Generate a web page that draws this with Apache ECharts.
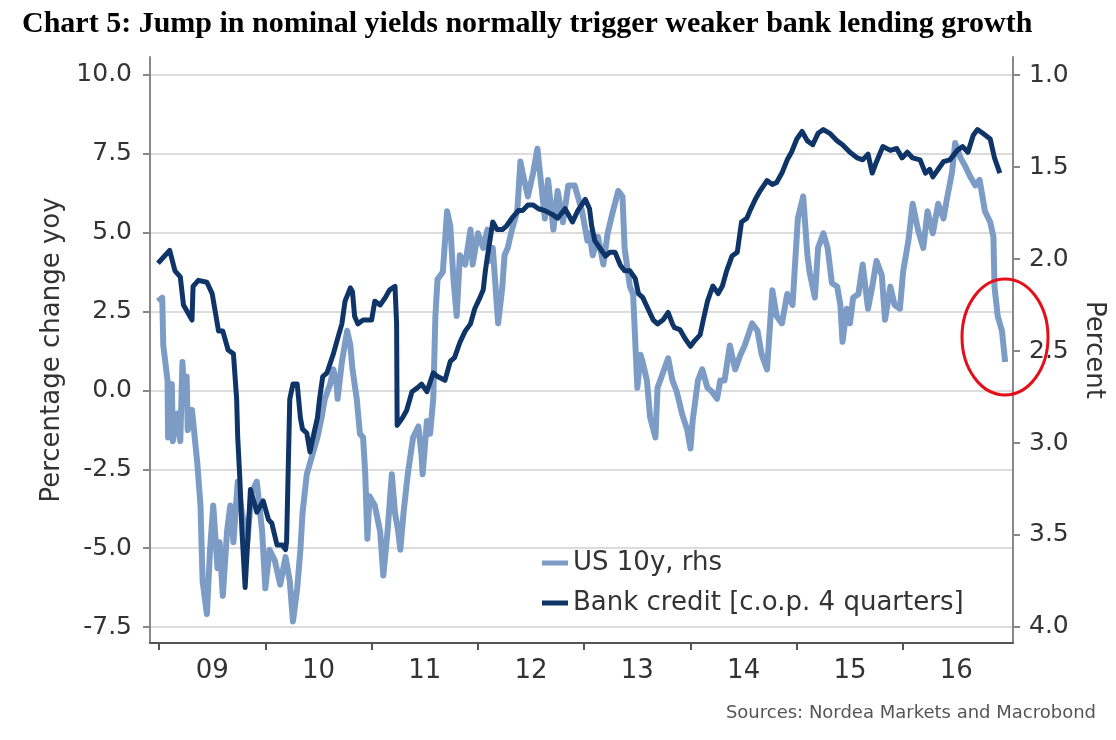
<!DOCTYPE html>
<html><head><meta charset="utf-8">
<script src="https://cdn.jsdelivr.net/npm/echarts@6/dist/echarts.min.js"></script>
<style>html,body{margin:0;padding:0;background:#fff}#c{width:1116px;height:740px}</style>
</head><body><div id="c"></div>
<script>
// Bank credit, % change yoy (c.o.p. 4 quarters), left axis
const bankTime = [2008.99,2009.10,2009.15,2009.20,2009.23,2009.31,2009.32,2009.37,2009.45,2009.50,2009.56,2009.60,2009.65,2009.70,2009.73,2009.74,2009.76,2009.78,2009.79,2009.81,2009.83,2009.86,2009.92,2009.98,2010.03,2010.06,2010.11,2010.16,2010.19,2010.20,2010.23,2010.26,2010.30,2010.33,2010.35,2010.39,2010.42,2010.45,2010.49,2010.51,2010.54,2010.58,2010.64,2010.68,2010.72,2010.75,2010.80,2010.82,2010.84,2010.87,2010.92,2010.98,2011.00,2011.03,2011.08,2011.13,2011.17,2011.22,2011.235,2011.24,2011.29,2011.33,2011.38,2011.43,2011.47,2011.52,2011.55,2011.58,2011.62,2011.69,2011.74,2011.78,2011.83,2011.88,2011.93,2011.97,2012.02,2012.05,2012.07,2012.09,2012.14,2012.18,2012.23,2012.27,2012.32,2012.38,2012.42,2012.47,2012.52,2012.57,2012.63,2012.70,2012.75,2012.82,2012.89,2012.94,2013.01,2013.05,2013.07,2013.10,2013.15,2013.20,2013.24,2013.29,2013.34,2013.38,2013.43,2013.48,2013.51,2013.55,2013.60,2013.65,2013.69,2013.74,2013.79,2013.83,2013.85,2013.90,2013.95,2014.00,2014.04,2014.09,2014.12,2014.16,2014.21,2014.26,2014.30,2014.34,2014.39,2014.44,2014.48,2014.53,2014.56,2014.61,2014.65,2014.72,2014.77,2014.81,2014.86,2014.91,2014.95,2015.00,2015.05,2015.10,2015.15,2015.20,2015.25,2015.31,2015.38,2015.43,2015.50,2015.57,2015.62,2015.67,2015.71,2015.75,2015.81,2015.88,2015.94,2015.99,2016.04,2016.09,2016.16,2016.21,2016.25,2016.28,2016.33,2016.38,2016.44,2016.51,2016.56,2016.61,2016.66,2016.70,2016.75,2016.82,2016.86,2016.91];
const bankCredit = [4.03,4.44,3.79,3.6,2.71,2.23,3.3,3.49,3.43,3.07,1.88,1.88,1.28,1.16,-0.27,-1.47,-2.78,-4.46,-5.05,-6.25,-5.05,-3.14,-3.86,-3.5,-4.1,-4.2,-4.9,-4.9,-5.05,-4.8,-0.27,0.2,0.2,-0.87,-1.23,-1.35,-1.95,-1.47,-0.87,-0.27,0.44,0.56,1.16,1.64,2.11,2.83,3.25,3.13,2.35,2.11,2.23,2.23,2.23,2.83,2.71,2.95,3.19,3.3,2.11,-1.11,-0.87,-0.63,-0.04,0.08,0.2,-0.04,0.26,0.56,0.44,0.32,0.92,1.04,1.52,1.88,2.11,2.59,2.95,3.19,3.79,4.26,5.34,5.1,5.1,5.22,5.46,5.7,5.7,5.88,5.88,5.76,5.7,5.58,5.46,5.76,5.34,5.7,6.06,5.76,5.22,4.74,4.5,4.26,4.38,4.38,3.97,3.79,3.79,3.55,3.07,2.95,2.59,2.23,2.11,2.23,2.47,2.11,1.99,1.93,1.64,1.4,1.58,1.76,2.23,2.83,3.31,3.07,3.31,3.79,4.26,4.38,5.34,5.46,5.7,6.06,6.3,6.65,6.53,6.59,6.89,7.31,7.55,7.97,8.21,7.91,7.79,8.15,8.27,8.15,7.91,7.79,7.55,7.37,7.31,7.49,6.89,7.25,7.73,7.61,7.67,7.37,7.55,7.37,7.31,6.89,7.01,6.77,7.01,7.25,7.31,7.61,7.73,7.55,8.09,8.27,8.15,7.97,7.37,6.89];

// US 10y yield, percent, right axis (inverted)
const yieldTime = [2008.99,2009.03,2009.04,2009.08,2009.085,2009.12,2009.13,2009.17,2009.20,2009.22,2009.24,2009.26,2009.27,2009.31,2009.36,2009.39,2009.41,2009.45,2009.48,2009.51,2009.55,2009.57,2009.60,2009.64,2009.67,2009.70,2009.74,2009.78,2009.83,2009.87,2009.92,2009.97,2010.00,2010.04,2010.09,2010.14,2010.19,2010.23,2010.26,2010.30,2010.33,2010.35,2010.39,2010.44,2010.49,2010.53,2010.56,2010.61,2010.64,2010.67,2010.68,2010.72,2010.77,2010.80,2010.82,2010.86,2010.89,2010.92,2010.94,2010.96,2010.98,2011.03,2011.08,2011.11,2011.15,2011.19,2011.22,2011.25,2011.27,2011.30,2011.34,2011.39,2011.44,2011.47,2011.48,2011.52,2011.55,2011.58,2011.60,2011.62,2011.67,2011.71,2011.74,2011.77,2011.80,2011.83,2011.88,2011.93,2011.95,2012.00,2012.05,2012.09,2012.11,2012.14,2012.19,2012.23,2012.25,2012.28,2012.32,2012.37,2012.40,2012.42,2012.47,2012.52,2012.56,2012.58,2012.63,2012.66,2012.71,2012.75,2012.80,2012.85,2012.91,2012.98,2013.03,2013.05,2013.08,2013.13,2013.18,2013.22,2013.27,2013.32,2013.36,2013.38,2013.43,2013.46,2013.50,2013.53,2013.55,2013.59,2013.62,2013.67,2013.69,2013.74,2013.79,2013.83,2013.87,2013.92,2013.97,2014.00,2014.02,2014.07,2014.11,2014.16,2014.20,2014.25,2014.28,2014.32,2014.37,2014.42,2014.47,2014.51,2014.58,2014.63,2014.67,2014.72,2014.77,2014.81,2014.86,2014.91,2014.96,2015.01,2015.06,2015.10,2015.12,2015.17,2015.20,2015.25,2015.29,2015.33,2015.38,2015.41,2015.43,2015.47,2015.50,2015.53,2015.58,2015.62,2015.67,2015.71,2015.75,2015.80,2015.83,2015.88,2015.92,2015.97,2016.00,2016.05,2016.09,2016.14,2016.19,2016.23,2016.28,2016.33,2016.38,2016.41,2016.46,2016.49,2016.54,2016.58,2016.63,2016.68,2016.72,2016.77,2016.82,2016.85,2016.86,2016.89,2016.93,2016.96];
const us10y = [2.23,2.21,2.47,2.66,2.97,2.68,2.99,2.84,2.99,2.56,2.76,2.64,2.93,2.82,3.11,3.34,3.75,3.93,3.58,3.34,3.68,3.54,3.83,3.48,3.34,3.54,3.21,3.38,3.54,3.27,3.21,3.48,3.79,3.58,3.64,3.77,3.62,3.75,3.97,3.79,3.58,3.38,3.17,3.07,2.97,2.86,2.76,2.68,2.60,2.68,2.76,2.56,2.39,2.47,2.60,2.76,2.95,2.97,3.17,3.52,3.29,3.34,3.48,3.72,3.48,3.17,3.38,3.48,3.58,3.38,3.17,2.97,2.91,3.07,3.17,2.88,2.95,2.76,2.31,2.11,2.07,1.74,1.82,2.11,2.31,1.98,2.03,1.84,2.03,1.86,1.94,1.84,2.01,1.94,2.35,2.15,1.98,1.94,1.84,1.74,1.47,1.53,1.66,1.53,1.40,1.51,1.78,1.57,1.84,1.63,1.80,1.60,1.60,1.74,1.90,1.86,1.98,1.88,2.03,1.86,1.74,1.63,1.66,1.94,2.15,2.19,2.70,2.52,2.56,2.66,2.86,2.97,2.70,2.62,2.54,2.66,2.72,2.84,2.93,3.03,2.88,2.66,2.60,2.70,2.72,2.76,2.66,2.66,2.47,2.60,2.52,2.47,2.35,2.39,2.52,2.60,2.17,2.31,2.35,2.19,2.25,1.78,1.66,1.98,2.07,2.21,1.94,1.86,1.94,2.13,2.15,2.25,2.45,2.27,2.35,2.21,2.19,2.03,2.27,2.15,2.01,2.09,2.33,2.15,2.25,2.27,2.07,1.90,1.70,1.84,1.94,1.74,1.86,1.70,1.78,1.68,1.53,1.37,1.45,1.49,1.55,1.60,1.57,1.74,1.80,1.88,2.15,2.31,2.39,2.56];

const yearTicks = [2009,2010,2011,2012,2013,2014,2015,2016];
const yearLabels = ['09','10','11','12','13','14','15','16'];
const leftTicks = [-7.5,-5,-2.5,0,2.5,5,7.5,10];
const rightTicks = [1,1.5,2,2.5,3,3.5,4];

const labelMid = yearTicks.map(y => y + 0.5);
const pair = (t, v) => t.map((x, i) => [x, v[i]]);
const FONT = 'DejaVu Sans';

const chart = echarts.init(document.getElementById('c'), null, {renderer: 'canvas'});
chart.setOption({
  animation: false,
  backgroundColor: '#ffffff',
  title: {
    text: 'Chart 5: Jump in nominal yields normally trigger weaker bank lending growth',
    left: 17, top: 4,
    textStyle: {fontFamily: 'Liberation Serif', fontWeight: 'bold', fontSize: 30, color: '#000'}
  },
  grid: {left: 150, right: 103, top: 57, bottom: 97, containLabel: false},
  legend: {
    left: 537, top: 545, orient: 'vertical', itemGap: 14,
    icon: 'rect', itemWidth: 26, itemHeight: 5,
    textStyle: {fontFamily: FONT, fontSize: 26, color: '#333'},
    data: ['US 10y, rhs', 'Bank credit [c.o.p. 4 quarters]']
  },
  xAxis: {
    type: 'value', min: 2008.915, max: 2017.034,
    axisLine: {show: true, onZero: false, lineStyle: {color: '#555', width: 2}},
    axisTick: {show: true, customValues: yearTicks, length: 7, lineStyle: {color: '#555', width: 2}},
    axisLabel: {
      customValues: labelMid, margin: 15,
      fontFamily: FONT, fontSize: 26, color: '#333',
      formatter: v => yearLabels[yearTicks.indexOf(Math.round(v - 0.5))]
    },
    splitLine: {show: false}
  },
  yAxis: [{
    type: 'value', min: -8.007, max: 10.57, position: 'left',
    name: 'Percentage change yoy', nameLocation: 'middle', nameGap: 78, nameRotate: 90,
    nameTextStyle: {fontFamily: FONT, fontSize: 26, color: '#333'},
    axisLine: {show: true, lineStyle: {color: '#888', width: 2}},
    axisTick: {show: true, customValues: leftTicks, length: 7, lineStyle: {color: '#888', width: 2}},
    axisLabel: {customValues: leftTicks, margin: 18, fontFamily: FONT, fontSize: 25, color: '#333',
      formatter: v => v.toFixed(1)},
    splitLine: {show: true, lineStyle: {color: '#dcdcdc', width: 2}}
  }, {
    type: 'value', min: 0.902, max: 4.087, inverse: true, position: 'right',
    name: 'Percent', nameLocation: 'middle', nameGap: 68, nameRotate: -90,
    nameTextStyle: {fontFamily: FONT, fontSize: 26, color: '#333'},
    axisLine: {show: true, lineStyle: {color: '#888', width: 2}},
    axisTick: {show: true, customValues: rightTicks, length: 7, lineStyle: {color: '#888', width: 2}},
    axisLabel: {customValues: rightTicks, margin: 16, fontFamily: FONT, fontSize: 25, color: '#333',
      formatter: v => v.toFixed(1)},
    splitLine: {show: false}
  }],
  series: [{
    name: 'US 10y, rhs', type: 'line', yAxisIndex: 1, data: pair(yieldTime, us10y),
    showSymbol: false, symbol: 'none', color: '#7c9cc6',
    lineStyle: {width: 6, color: '#7c9cc6', join: 'round'}
  }, {
    name: 'Bank credit [c.o.p. 4 quarters]', type: 'line', yAxisIndex: 0, data: pair(bankTime, bankCredit),
    showSymbol: false, symbol: 'none', color: '#0f3468',
    lineStyle: {width: 5, color: '#0f3468', join: 'round'}
  }],
  graphic: [{
    type: 'ellipse', shape: {cx: 1005, cy: 337, rx: 43, ry: 58},
    style: {fill: 'none', stroke: '#e3101c', lineWidth: 3}, z: 100
  }, {
    type: 'text', right: 20, top: 704,
    style: {text: 'Sources: Nordea Markets and Macrobond', font: '18px "DejaVu Sans"', fill: '#555'}
  }]
});
</script>
</body></html>
